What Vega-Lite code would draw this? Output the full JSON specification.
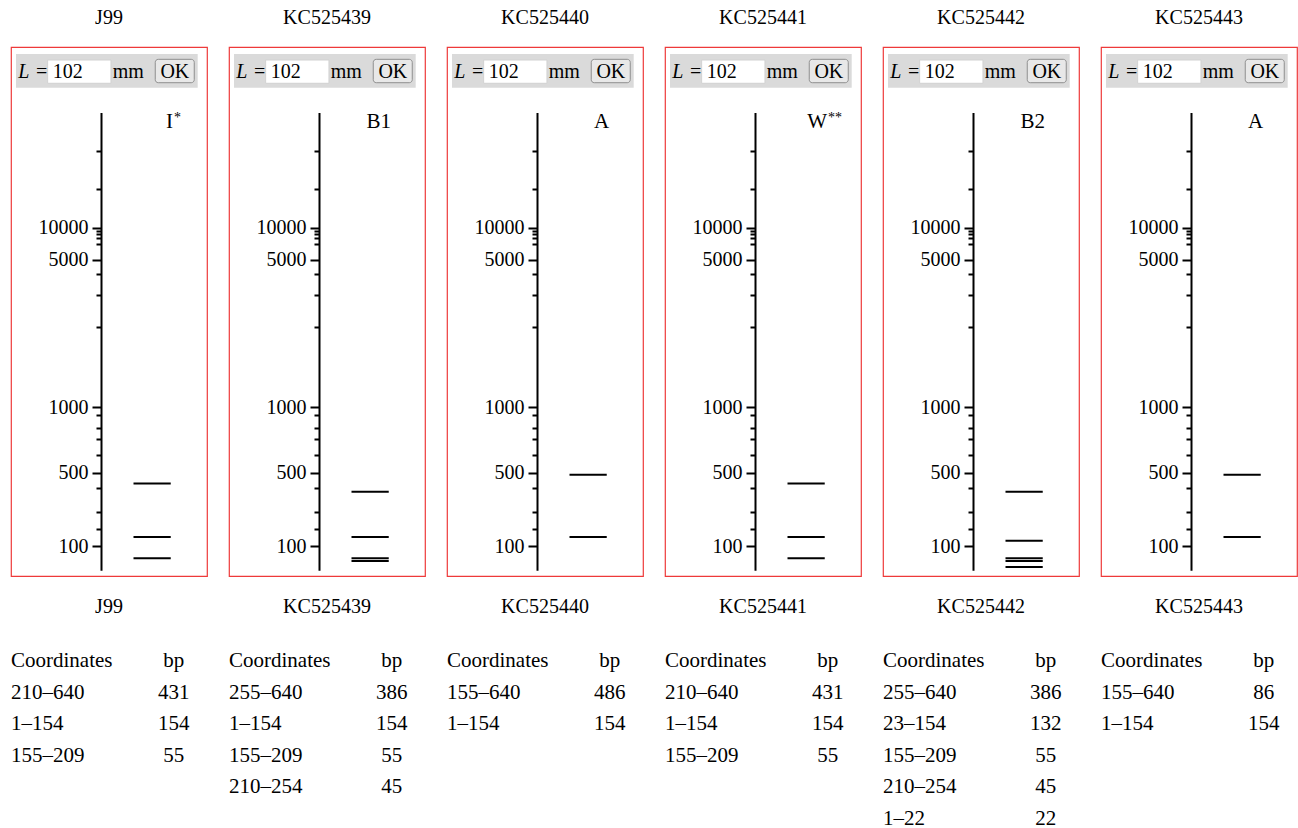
{
  "$schema": "https://vega.github.io/schema/vega-lite/v6.json",
  "background": "white",
  "padding": {"left": 10, "top": 8, "right": 0, "bottom": 0},
  "config": {
    "font": "Liberation Serif",
    "text": {"font": "Liberation Serif", "color": "black"},
    "header": {"labelFont": "Liberation Serif", "labelColor": "black", "labelFontSize": 20}
  },
  "datasets": {
    "gel": [
      {"sample": "J99", "kind": "lane", "type": "I", "sup": "*"},
      {"sample": "J99", "kind": "band", "bp": 431},
      {"sample": "J99", "kind": "band", "bp": 154},
      {"sample": "J99", "kind": "band", "bp": 55},
      {"sample": "KC525439", "kind": "lane", "type": "B1", "sup": ""},
      {"sample": "KC525439", "kind": "band", "bp": 386},
      {"sample": "KC525439", "kind": "band", "bp": 154},
      {"sample": "KC525439", "kind": "band", "bp": 55},
      {"sample": "KC525439", "kind": "band", "bp": 45},
      {"sample": "KC525440", "kind": "lane", "type": "A", "sup": ""},
      {"sample": "KC525440", "kind": "band", "bp": 486},
      {"sample": "KC525440", "kind": "band", "bp": 154},
      {"sample": "KC525441", "kind": "lane", "type": "W", "sup": "**"},
      {"sample": "KC525441", "kind": "band", "bp": 431},
      {"sample": "KC525441", "kind": "band", "bp": 154},
      {"sample": "KC525441", "kind": "band", "bp": 55},
      {"sample": "KC525442", "kind": "lane", "type": "B2", "sup": ""},
      {"sample": "KC525442", "kind": "band", "bp": 386},
      {"sample": "KC525442", "kind": "band", "bp": 132},
      {"sample": "KC525442", "kind": "band", "bp": 55},
      {"sample": "KC525442", "kind": "band", "bp": 45},
      {"sample": "KC525442", "kind": "band", "bp": 22},
      {"sample": "KC525443", "kind": "lane", "type": "A", "sup": ""},
      {"sample": "KC525443", "kind": "band", "bp": 486},
      {"sample": "KC525443", "kind": "band", "bp": 154}
    ],
    "table": [
      {"sample": "J99", "row": 1, "coord": "210–640", "size": "431"},
      {"sample": "J99", "row": 2, "coord": "1–154", "size": "154"},
      {"sample": "J99", "row": 3, "coord": "155–209", "size": "55"},
      {"sample": "KC525439", "row": 1, "coord": "255–640", "size": "386"},
      {"sample": "KC525439", "row": 2, "coord": "1–154", "size": "154"},
      {"sample": "KC525439", "row": 3, "coord": "155–209", "size": "55"},
      {"sample": "KC525439", "row": 4, "coord": "210–254", "size": "45"},
      {"sample": "KC525440", "row": 1, "coord": "155–640", "size": "486"},
      {"sample": "KC525440", "row": 2, "coord": "1–154", "size": "154"},
      {"sample": "KC525441", "row": 1, "coord": "210–640", "size": "431"},
      {"sample": "KC525441", "row": 2, "coord": "1–154", "size": "154"},
      {"sample": "KC525441", "row": 3, "coord": "155–209", "size": "55"},
      {"sample": "KC525442", "row": 1, "coord": "255–640", "size": "386"},
      {"sample": "KC525442", "row": 2, "coord": "23–154", "size": "132"},
      {"sample": "KC525442", "row": 3, "coord": "155–209", "size": "55"},
      {"sample": "KC525442", "row": 4, "coord": "210–254", "size": "45"},
      {"sample": "KC525442", "row": 5, "coord": "1–22", "size": "22"},
      {"sample": "KC525443", "row": 1, "coord": "155–640", "size": "86"},
      {"sample": "KC525443", "row": 2, "coord": "1–154", "size": "154"}
    ]
  },
  "spacing": 20,
  "vconcat": [
    {
      "data": {"name": "gel"},
      "facet": {"column": {"field": "sample", "type": "nominal", "title": null,
        "header": {"labelFontSize": 20, "labelPadding": 3, "labelBaseline": "alphabetic"}}},
      "spacing": 22,
      "bounds": "flush",
      "resolve": {"axis": {"y": "independent"}},
      "spec": {
        "width": 196,
        "height": 529,
        "view": {"stroke": "#ee3a3a", "strokeWidth": 1.2},
        "resolve": {"scale": {"y": "independent"}},
        "layer": [
          {
            "transform": [{"filter": "datum.kind == 'band'"}],
            "mark": {"type": "rule", "strokeWidth": 2, "color": "black"},
            "encoding": {
              "x": {"datum": 0.625, "type": "quantitative", "scale": {"domain": [0, 1], "nice": false, "zero": false}, "axis": null},
              "x2": {"datum": 0.815},
              "y": {
                "field": "bp", "type": "quantitative",
                "scale": {
                  "type": "linear", "nice": false, "zero": false,
                  "domain": [10, 100, 200, 300, 400, 500, 600, 700, 800, 900, 1000, 2000, 3000, 4000, 5000, 6000, 7000, 8000, 9000, 10000, 20000, 30000, 40000],
                  "range": [523.3, 499.4, 482.1, 464.5, 441.4, 425.5, 407.8, 391.5, 380.7, 367.8, 360.2, 279.5, 248.4, 227.0, 212.8, 196.5, 191.4, 187.3, 183.9, 180.5, 142.0, 103.7, 65.5]
                },
                "axis": {
                  "orient": "left", "offset": -90, "title": null, "grid": false,
                  "values": [100, 200, 300, 400, 500, 600, 700, 800, 900, 1000, 2000, 3000, 4000, 5000, 6000, 7000, 8000, 9000, 10000, 20000, 30000],
                  "format": "d",
                  "labelExpr": "indexof([100,500,1000,5000,10000], datum.value) >= 0 ? datum.label : ''",
                  "tickSize": {"condition": {"test": "indexof([100,500,1000,5000,10000], datum.value) >= 0", "value": 9}, "value": 5},
                  "tickWidth": 2, "tickColor": "black", "domainColor": "black", "domainWidth": 2,
                  "labelFont": "Liberation Serif", "labelFontSize": 20, "labelColor": "black", "labelPadding": 4,
                  "labelOverlap": false, "labelBound": false, "labelFlush": false
                }
              }
            }
          },
          {
            "transform": [{"filter": "datum.kind == 'lane'"}],
            "layer": [
              {
                "mark": {"type": "rect", "fill": "#dadada"},
                "encoding": {
                  "x": {"datum": 0.0255, "type": "quantitative", "scale": {"domain": [0, 1], "nice": false, "zero": false}, "axis": null},
                  "x2": {"datum": 0.9525},
                  "y": {"datum": 0.0132, "type": "quantitative", "scale": {"domain": [0, 1], "reverse": true, "nice": false, "zero": false}, "axis": null},
                  "y2": {"datum": 0.0769}
                }
              },
              {
                "mark": {"type": "rect", "fill": "white", "stroke": "#d2d2d2", "strokeWidth": 1},
                "encoding": {
                  "x": {"datum": 0.187, "type": "quantitative", "scale": {"domain": [0, 1], "nice": false, "zero": false}, "axis": null},
                  "x2": {"datum": 0.51},
                  "y": {"datum": 0.0246, "type": "quantitative", "scale": {"domain": [0, 1], "reverse": true, "nice": false, "zero": false}, "axis": null},
                  "y2": {"datum": 0.0686}
                }
              },
              {
                "mark": {"type": "rect", "fill": "#e8e8e8", "stroke": "#8f8f8f", "strokeWidth": 1, "cornerRadius": 3},
                "encoding": {
                  "x": {"datum": 0.736, "type": "quantitative", "scale": {"domain": [0, 1], "nice": false, "zero": false}, "axis": null},
                  "x2": {"datum": 0.935},
                  "y": {"datum": 0.0233, "type": "quantitative", "scale": {"domain": [0, 1], "reverse": true, "nice": false, "zero": false}, "axis": null},
                  "y2": {"datum": 0.0675}
                }
              },
              {
                "mark": {"type": "text", "text": "L", "fontStyle": "italic", "fontSize": 20, "align": "left", "baseline": "alphabetic"},
                "encoding": {
                  "x": {"datum": 0.037, "type": "quantitative", "scale": {"domain": [0, 1], "nice": false, "zero": false}, "axis": null},
                  "y": {"datum": 0.058, "type": "quantitative", "scale": {"domain": [0, 1], "reverse": true, "nice": false, "zero": false}, "axis": null}
                }
              },
              {
                "mark": {"type": "text", "text": "=", "fontSize": 20, "align": "left", "baseline": "alphabetic"},
                "encoding": {
                  "x": {"datum": 0.128, "type": "quantitative", "scale": {"domain": [0, 1], "nice": false, "zero": false}, "axis": null},
                  "y": {"datum": 0.058, "type": "quantitative", "scale": {"domain": [0, 1], "reverse": true, "nice": false, "zero": false}, "axis": null}
                }
              },
              {
                "mark": {"type": "text", "text": "102", "fontSize": 20, "align": "left", "baseline": "alphabetic"},
                "encoding": {
                  "x": {"datum": 0.213, "type": "quantitative", "scale": {"domain": [0, 1], "nice": false, "zero": false}, "axis": null},
                  "y": {"datum": 0.058, "type": "quantitative", "scale": {"domain": [0, 1], "reverse": true, "nice": false, "zero": false}, "axis": null}
                }
              },
              {
                "mark": {"type": "text", "text": "mm", "fontSize": 20, "align": "left", "baseline": "alphabetic"},
                "encoding": {
                  "x": {"datum": 0.519, "type": "quantitative", "scale": {"domain": [0, 1], "nice": false, "zero": false}, "axis": null},
                  "y": {"datum": 0.058, "type": "quantitative", "scale": {"domain": [0, 1], "reverse": true, "nice": false, "zero": false}, "axis": null}
                }
              },
              {
                "mark": {"type": "text", "text": "OK", "fontSize": 20, "align": "center", "baseline": "alphabetic"},
                "encoding": {
                  "x": {"datum": 0.836, "type": "quantitative", "scale": {"domain": [0, 1], "nice": false, "zero": false}, "axis": null},
                  "y": {"datum": 0.058, "type": "quantitative", "scale": {"domain": [0, 1], "reverse": true, "nice": false, "zero": false}, "axis": null}
                }
              },
              {
                "mark": {"type": "text", "fontSize": 21, "align": "right", "baseline": "alphabetic"},
                "encoding": {
                  "text": {"field": "type", "type": "nominal"},
                  "x": {"datum": 0.827, "type": "quantitative", "scale": {"domain": [0, 1], "nice": false, "zero": false}, "axis": null},
                  "y": {"datum": 0.1537, "type": "quantitative", "scale": {"domain": [0, 1], "reverse": true, "nice": false, "zero": false}, "axis": null}
                }
              },
              {
                "mark": {"type": "text", "fontSize": 14, "align": "left", "baseline": "alphabetic", "dx": 1, "dy": -6},
                "encoding": {
                  "text": {"field": "sup", "type": "nominal"},
                  "x": {"datum": 0.827, "type": "quantitative", "scale": {"domain": [0, 1], "nice": false, "zero": false}, "axis": null},
                  "y": {"datum": 0.1537, "type": "quantitative", "scale": {"domain": [0, 1], "reverse": true, "nice": false, "zero": false}, "axis": null}
                }
              }
            ]
          }
        ]
      }
    },
    {
      "data": {"name": "table"},
      "facet": {"column": {"field": "sample", "type": "nominal", "title": null,
        "header": {"labelFontSize": 20, "labelPadding": 28, "labelBaseline": "alphabetic"}}},
      "spacing": 22,
      "bounds": "flush",
      "spec": {
        "width": 196,
        "height": 158,
        "view": {"stroke": null},
        "layer": [
          {
            "transform": [{"filter": "datum.row == 1"}],
            "mark": {"type": "text", "text": "Coordinates", "fontSize": 21, "align": "left", "baseline": "middle"},
            "encoding": {
              "x": {"datum": 0, "type": "quantitative", "scale": {"domain": [0, 1], "nice": false, "zero": false}, "axis": null},
              "y": {"datum": 0, "type": "quantitative", "scale": {"domain": [0, 5], "reverse": true, "nice": false, "zero": false}, "axis": null}
            }
          },
          {
            "transform": [{"filter": "datum.row == 1"}],
            "mark": {"type": "text", "text": "bp", "fontSize": 21, "align": "center", "baseline": "middle"},
            "encoding": {
              "x": {"datum": 0.83, "type": "quantitative", "scale": {"domain": [0, 1], "nice": false, "zero": false}, "axis": null},
              "y": {"datum": 0, "type": "quantitative", "scale": {"domain": [0, 5], "reverse": true, "nice": false, "zero": false}, "axis": null}
            }
          },
          {
            "mark": {"type": "text", "fontSize": 21, "align": "left", "baseline": "middle"},
            "encoding": {
              "text": {"field": "coord", "type": "nominal"},
              "x": {"datum": 0, "type": "quantitative", "scale": {"domain": [0, 1], "nice": false, "zero": false}, "axis": null},
              "y": {"field": "row", "type": "quantitative", "scale": {"domain": [0, 5], "reverse": true, "nice": false, "zero": false}, "axis": null}
            }
          },
          {
            "mark": {"type": "text", "fontSize": 21, "align": "center", "baseline": "middle"},
            "encoding": {
              "text": {"field": "size", "type": "nominal"},
              "x": {"datum": 0.83, "type": "quantitative", "scale": {"domain": [0, 1], "nice": false, "zero": false}, "axis": null},
              "y": {"field": "row", "type": "quantitative", "scale": {"domain": [0, 5], "reverse": true, "nice": false, "zero": false}, "axis": null}
            }
          }
        ]
      }
    }
  ]
}
